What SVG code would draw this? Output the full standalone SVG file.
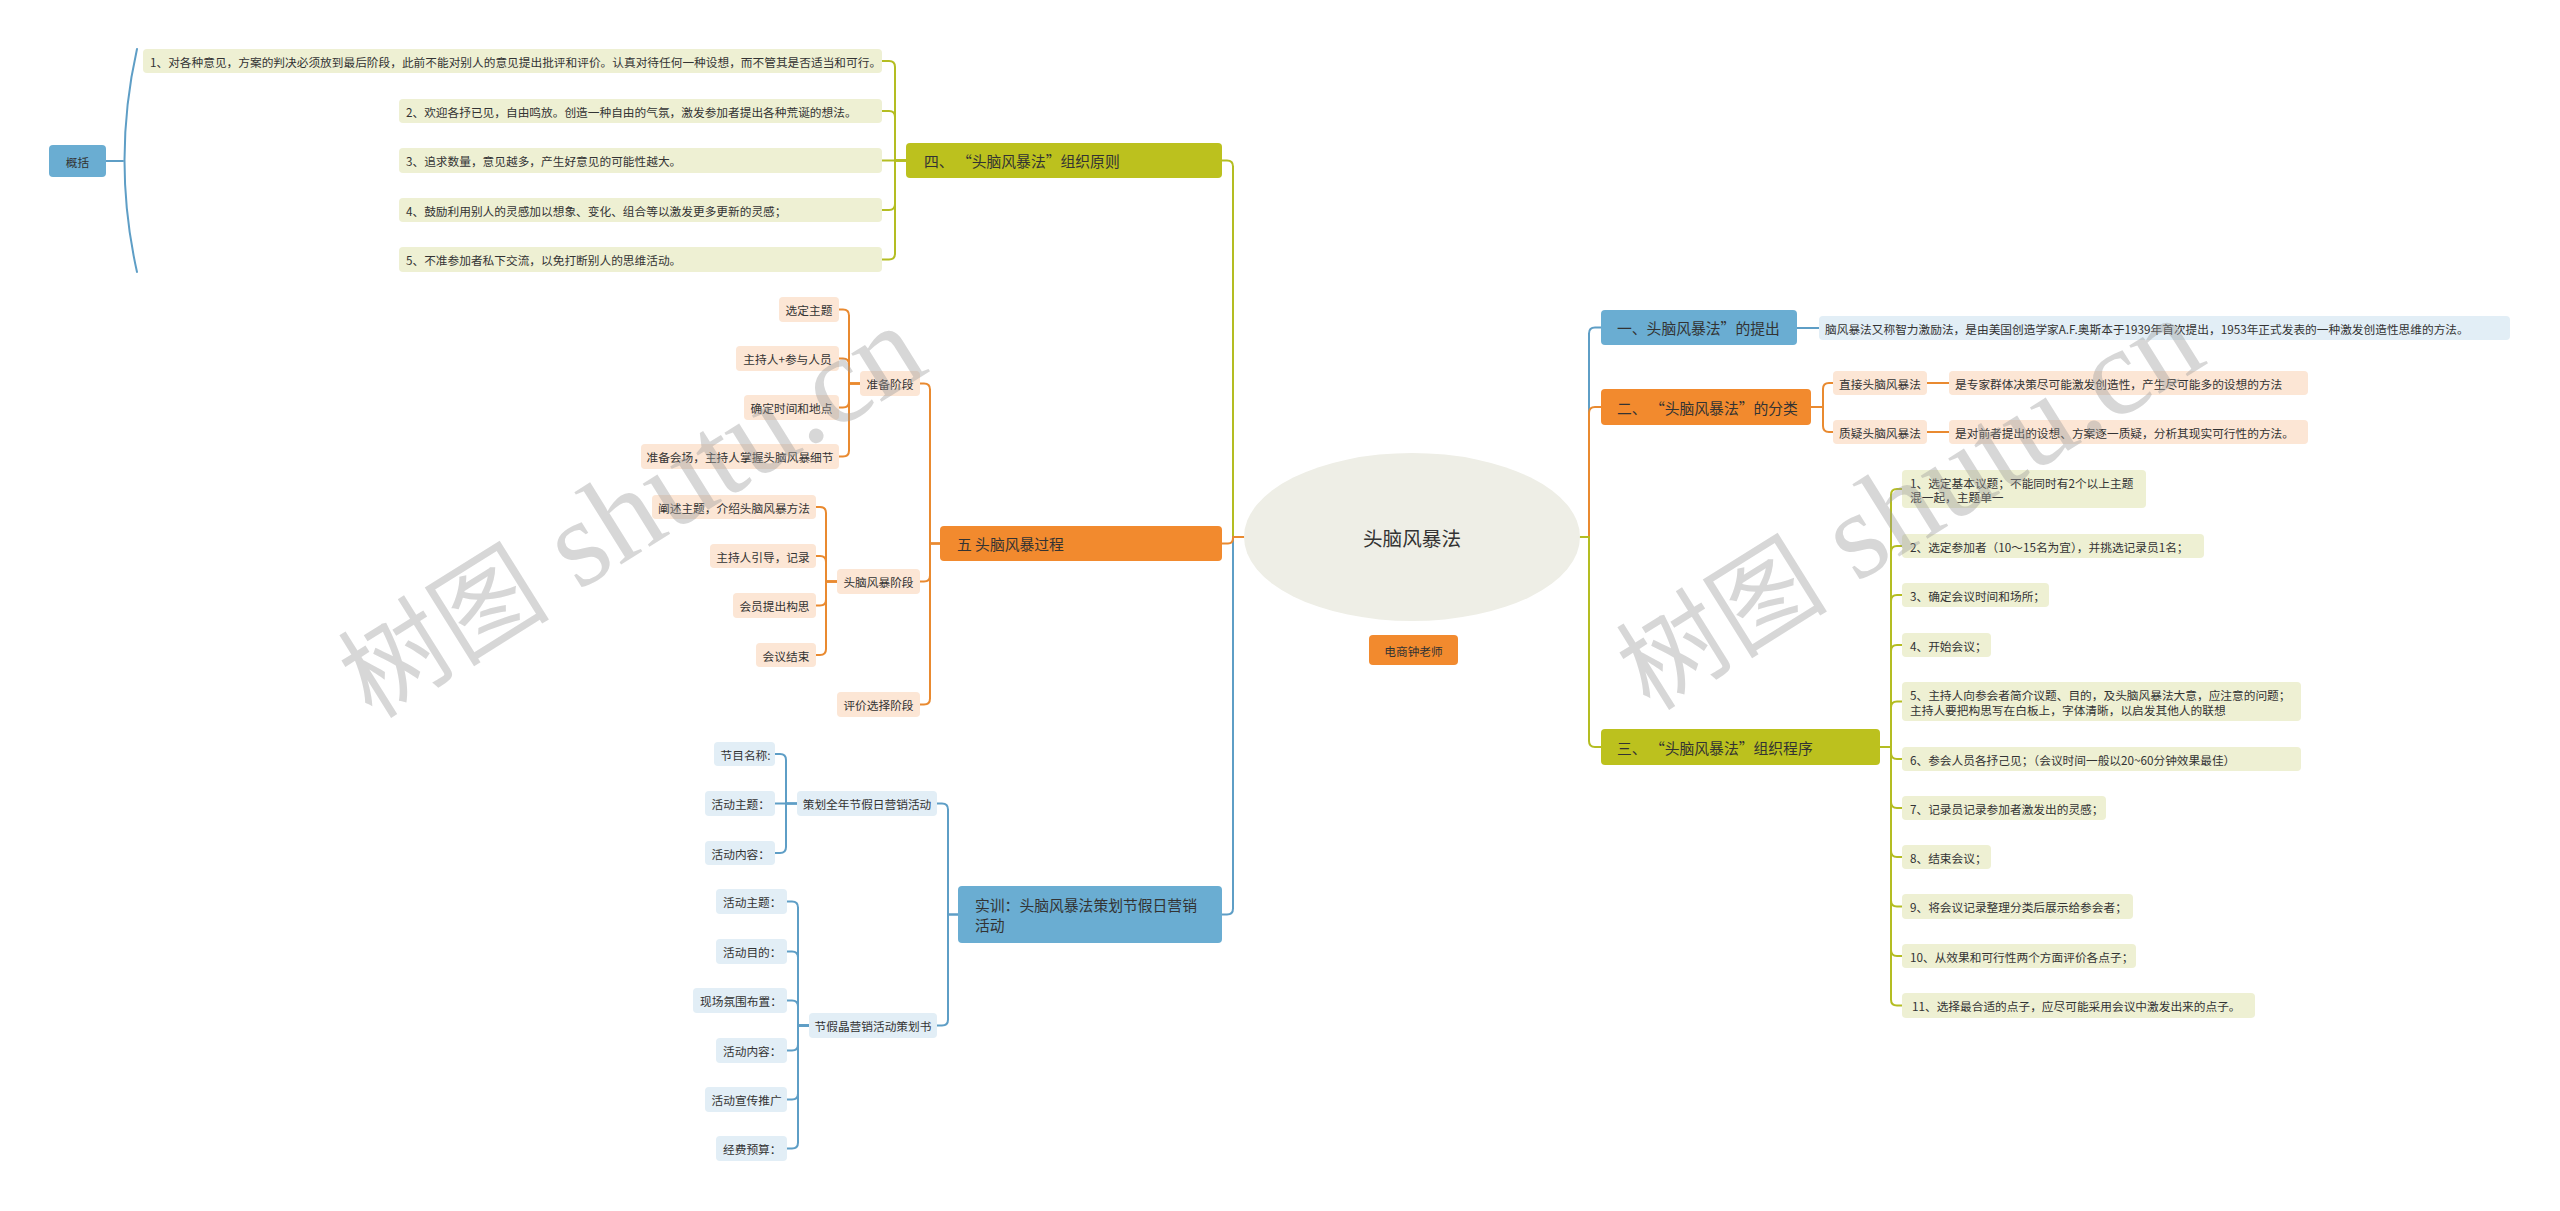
<svg xmlns="http://www.w3.org/2000/svg" width="2560" height="1211" viewBox="0 0 2560 1211">
<style>
text{font-family:"Noto Sans CJK SC","Liberation Sans",sans-serif;fill:#333;dominant-baseline:central}
.t15{font-size:14.8px}
.t12{font-size:11.7px}
.mid{text-anchor:middle}
.cb{fill:#6AADD2}
.co{fill:#F28A2E}
.cg{fill:#BCC11E}
.lb{fill:#E2EEF6}
.lo{fill:#FCE6D5}
.lg{fill:#EEF0D3}
.ln{fill:none;stroke-width:2;stroke-linecap:round;stroke-linejoin:round}
.lnb{stroke:#5E9EC6}
.lno{stroke:#E98A30}
.lng{stroke:#B4BD22}
.wm{font-family:"Liberation Serif","Noto Sans CJK SC",serif;fill:#9a9a9a;fill-opacity:0.4;dominant-baseline:auto}
</style>
<rect width="2560" height="1211" fill="#fff"/>
<g id="connectors">
<path class="ln lng" stroke-width="2.5" d="M1244,537 H1233 V166.5 Q1233,160.5 1227,160.5 H1222"/>
<path class="ln lnb" stroke-width="2.5" d="M1244,537 H1233 V908.5 Q1233,914.5 1227,914.5 H1222"/>
<path class="ln lno" stroke-width="2.5" d="M1244,537 H1233 V538 Q1233,543.5 1228,543.5 H1222"/>
<path class="ln lnb" stroke-width="2.5" d="M1580,537 H1589 V333.5 Q1589,327.5 1595,327.5 H1601"/>
<path class="ln lno" stroke-width="2.5" d="M1580,537 H1589 V413 Q1589,407 1595,407 H1601"/>
<path class="ln lng" stroke-width="2.5" d="M1580,537 H1589 V741 Q1589,747 1595,747 H1601"/>
<path class="ln lng" d="M906,160.5 H895 V67 Q895,61 889,61 H882"/>
<path class="ln lng" d="M906,160.5 H895 V117 Q895,111 889,111 H882"/>
<path class="ln lng" d="M906,160.5 H882"/>
<path class="ln lng" d="M906,160.5 H895 V204 Q895,210 889,210 H882"/>
<path class="ln lng" d="M906,160.5 H895 V253.5 Q895,259.5 889,259.5 H882"/>
<path class="ln lnb" d="M106,161 H123"/>
<path class="ln lnb" stroke-width="1.6" d="M137,49 Q112,160 137,272"/>
<path class="ln lno" d="M940,543.5 H930 V389.5 Q930,383.5 924,383.5 H920"/>
<path class="ln lno" d="M940,543.5 H930 V575.5 Q930,581.5 924,581.5 H920"/>
<path class="ln lno" d="M940,543.5 H930 V698.5 Q930,704.5 924,704.5 H920"/>
<path class="ln lno" d="M860,383.5 H849 V315.5 Q849,309.5 843,309.5 H839"/>
<path class="ln lno" d="M860,383.5 H849 V364.5 Q849,358.5 843,358.5 H839"/>
<path class="ln lno" d="M860,383.5 H849 V401.5 Q849,407.5 843,407.5 H839"/>
<path class="ln lno" d="M860,383.5 H849 V450.5 Q849,456.5 843,456.5 H839"/>
<path class="ln lno" d="M837,581.5 H826 V513 Q826,507 820,507 H816"/>
<path class="ln lno" d="M837,581.5 H826 V562 Q826,556 820,556 H816"/>
<path class="ln lno" d="M837,581.5 H826 V599.5 Q826,605.5 820,605.5 H816"/>
<path class="ln lno" d="M837,581.5 H826 V649 Q826,655 820,655 H816"/>
<path class="ln lnb" d="M958,914.5 H948 V809.5 Q948,803.5 942,803.5 H937"/>
<path class="ln lnb" d="M958,914.5 H948 V1019.5 Q948,1025.5 942,1025.5 H937"/>
<path class="ln lnb" d="M797,803.5 H786 V760 Q786,754 780,754 H775"/>
<path class="ln lnb" d="M797,803.5 H775"/>
<path class="ln lnb" d="M797,803.5 H786 V847 Q786,853 780,853 H775"/>
<path class="ln lnb" d="M809,1025.5 H798 V907.5 Q798,901.5 792,901.5 H787"/>
<path class="ln lnb" d="M809,1025.5 H798 V957.5 Q798,951.5 792,951.5 H787"/>
<path class="ln lnb" d="M809,1025.5 H798 V1006.5 Q798,1000.5 792,1000.5 H787"/>
<path class="ln lnb" d="M809,1025.5 H798 V1044.5 Q798,1050.5 792,1050.5 H787"/>
<path class="ln lnb" d="M809,1025.5 H798 V1093.5 Q798,1099.5 792,1099.5 H787"/>
<path class="ln lnb" d="M809,1025.5 H798 V1142.5 Q798,1148.5 792,1148.5 H787"/>
<path class="ln lnb" d="M1797,328 H1819"/>
<path class="ln lno" d="M1811,407 H1823 V389 Q1823,383 1829,383 H1833"/>
<path class="ln lno" d="M1811,407 H1823 V426 Q1823,432 1829,432 H1833"/>
<path class="ln lno" d="M1927,383 H1949"/>
<path class="ln lno" d="M1927,432 H1949"/>
<path class="ln lng" d="M1880,747 H1891 V495 Q1891,489 1897,489 H1902"/>
<path class="ln lng" d="M1880,747 H1891 V552 Q1891,546 1897,546 H1902"/>
<path class="ln lng" d="M1880,747 H1891 V601 Q1891,595 1897,595 H1902"/>
<path class="ln lng" d="M1880,747 H1891 V651 Q1891,645 1897,645 H1902"/>
<path class="ln lng" d="M1880,747 H1891 V707.5 Q1891,701.5 1897,701.5 H1902"/>
<path class="ln lng" d="M1880,747 H1891 V753 Q1891,759 1897,759 H1902"/>
<path class="ln lng" d="M1880,747 H1891 V802 Q1891,808 1897,808 H1902"/>
<path class="ln lng" d="M1880,747 H1891 V851 Q1891,857 1897,857 H1902"/>
<path class="ln lng" d="M1880,747 H1891 V900.5 Q1891,906.5 1897,906.5 H1902"/>
<path class="ln lng" d="M1880,747 H1891 V950 Q1891,956 1897,956 H1902"/>
<path class="ln lng" d="M1880,747 H1891 V999.5 Q1891,1005.5 1897,1005.5 H1902"/>
</g>
<g id="root"><ellipse cx="1412" cy="537" rx="168" ry="84" fill="#EEEEE6"/><text class="mid" x="1412" y="537" font-size="19.6">头脑风暴法</text></g>
<g id="author"><rect class="co" x="1369" y="635" width="89" height="30" rx="4"/><text class="t12 mid" x="1413.5" y="650">电商钟老师</text></g>
<g id="b4"><rect class="cg" x="906" y="143" width="316" height="35" rx="4"/><text class="t15" x="924" y="160.5">四、 “头脑风暴法”组织原则</text></g>
<g id="b5"><rect class="co" x="940" y="526" width="282" height="35" rx="4"/><text class="t15" x="957" y="543.5">五 头脑风暴过程</text></g>
<g id="bsx"><rect class="cb" x="958" y="886" width="264" height="57" rx="4"/><text class="t15" x="975" y="904.5">实训：头脑风暴法策划节假日营销</text><text class="t15" x="975" y="924.5">活动</text></g>
<g id="b1"><rect class="cb" x="1601" y="310" width="196" height="35" rx="4"/><text class="t15" x="1617" y="327.5">一、头脑风暴法”的提出</text></g>
<g id="b2"><rect class="co" x="1601" y="389" width="210" height="36" rx="4"/><text class="t15" x="1617" y="407">二、 “头脑风暴法”的分类</text></g>
<g id="b3"><rect class="cg" x="1601" y="729" width="279" height="36" rx="4"/><text class="t15" x="1617" y="747">三、 “头脑风暴法”组织程序</text></g>
<g id="gaikuo"><rect class="cb" x="49" y="145" width="57" height="32" rx="4"/><text class="t12 mid" x="77.5" y="161">概括</text></g>
<g id="b4c1"><rect class="lg" x="143" y="49" width="739" height="24" rx="4"/><text class="t12" x="150" y="61">1、对各种意见，方案的判决必须放到最后阶段，此前不能对别人的意见提出批评和评价。认真对待任何一种设想，而不管其是否适当和可行。</text></g>
<g id="b4c2"><rect class="lg" x="399" y="99" width="483" height="24" rx="4"/><text class="t12" x="406" y="111">2、欢迎各抒已见，自由鸣放。创造一种自由的气氛，激发参加者提出各种荒诞的想法。</text></g>
<g id="b4c3"><rect class="lg" x="399" y="148" width="483" height="25" rx="4"/><text class="t12" x="406" y="160.5">3、追求数量，意见越多，产生好意见的可能性越大。</text></g>
<g id="b4c4"><rect class="lg" x="399" y="198" width="483" height="24" rx="4"/><text class="t12" x="406" y="210">4、鼓励利用别人的灵感加以想象、变化、组合等以激发更多更新的灵感；</text></g>
<g id="b4c5"><rect class="lg" x="399" y="247" width="483" height="25" rx="4"/><text class="t12" x="406" y="259.5">5、不准参加者私下交流，以免打断别人的思维活动。</text></g>
<g id="p1"><rect class="lo" x="860" y="371" width="60" height="25" rx="4"/><text class="t12 mid" x="890" y="383.5">准备阶段</text></g>
<g id="p2"><rect class="lo" x="837" y="569" width="83" height="25" rx="4"/><text class="t12 mid" x="878.5" y="581.5">头脑风暴阶段</text></g>
<g id="p3"><rect class="lo" x="837" y="692" width="83" height="25" rx="4"/><text class="t12 mid" x="878.5" y="704.5">评价选择阶段</text></g>
<g id="p1a"><rect class="lo" x="779" y="297" width="60" height="25" rx="4"/><text class="t12 mid" x="809" y="309.5">选定主题</text></g>
<g id="p1b"><rect class="lo" x="736" y="346" width="103" height="25" rx="4"/><text class="t12 mid" x="787.5" y="358.5">主持人+参与人员</text></g>
<g id="p1c"><rect class="lo" x="744" y="395" width="95" height="25" rx="4"/><text class="t12 mid" x="791.5" y="407.5">确定时间和地点</text></g>
<g id="p1d"><rect class="lo" x="641" y="444" width="198" height="25" rx="4"/><text class="t12 mid" x="740" y="456.5">准备会场，主持人掌握头脑风暴细节</text></g>
<g id="p2a"><rect class="lo" x="652" y="495" width="164" height="24" rx="4"/><text class="t12 mid" x="734" y="507">阐述主题，介绍头脑风暴方法</text></g>
<g id="p2b"><rect class="lo" x="710" y="544" width="106" height="24" rx="4"/><text class="t12 mid" x="763" y="556">主持人引导，记录</text></g>
<g id="p2c"><rect class="lo" x="733" y="593" width="83" height="25" rx="4"/><text class="t12 mid" x="774.5" y="605.5">会员提出构思</text></g>
<g id="p2d"><rect class="lo" x="756" y="643" width="60" height="24" rx="4"/><text class="t12 mid" x="786" y="655">会议结束</text></g>
<g id="s1"><rect class="lb" x="797" y="791" width="140" height="25" rx="4"/><text class="t12 mid" x="867" y="803.5">策划全年节假日营销活动</text></g>
<g id="s2"><rect class="lb" x="809" y="1013" width="128" height="25" rx="4"/><text class="t12 mid" x="873" y="1025.5">节假晶营销活动策划书</text></g>
<g id="s1a"><rect class="lb" x="714" y="742" width="61" height="24" rx="4"/><text class="t12" x="720.5" y="754">节目名称:</text></g>
<g id="s1b"><rect class="lb" x="705" y="791" width="70" height="25" rx="4"/><text class="t12" x="711.5" y="803.5">活动主题：</text></g>
<g id="s1c"><rect class="lb" x="705" y="841" width="70" height="24" rx="4"/><text class="t12" x="711.5" y="853">活动内容：</text></g>
<g id="s2a"><rect class="lb" x="716" y="889" width="71" height="25" rx="4"/><text class="t12" x="723" y="901.5">活动主题：</text></g>
<g id="s2b"><rect class="lb" x="716" y="939" width="71" height="25" rx="4"/><text class="t12" x="723" y="951.5">活动目的：</text></g>
<g id="s2c"><rect class="lb" x="693" y="988" width="94" height="25" rx="4"/><text class="t12" x="700" y="1000.5">现场氛围布置：</text></g>
<g id="s2d"><rect class="lb" x="716" y="1038" width="71" height="25" rx="4"/><text class="t12" x="723" y="1050.5">活动内容：</text></g>
<g id="s2e"><rect class="lb" x="705" y="1087" width="82" height="25" rx="4"/><text class="t12" x="711.5" y="1099.5">活动宣传推广</text></g>
<g id="s2f"><rect class="lb" x="716" y="1136" width="71" height="25" rx="4"/><text class="t12" x="723" y="1148.5">经费预算：</text></g>
<g id="b1d"><rect class="lb" x="1819" y="316" width="691" height="24" rx="4"/><text class="t12" x="1825" y="328">脑风暴法又称智力激励法，是由美国创造学家A.F.奥斯本于1939年首次提出，1953年正式发表的一种激发创造性思维的方法。</text></g>
<g id="b2a"><rect class="lo" x="1833" y="371" width="94" height="24" rx="4"/><text class="t12 mid" x="1880" y="383">直接头脑风暴法</text></g>
<g id="b2b"><rect class="lo" x="1833" y="420" width="94" height="24" rx="4"/><text class="t12 mid" x="1880" y="432">质疑头脑风暴法</text></g>
<g id="b2ad"><rect class="lo" x="1949" y="371" width="359" height="24" rx="4"/><text class="t12" x="1955" y="383">是专家群体决策尽可能激发创造性，产生尽可能多的设想的方法</text></g>
<g id="b2bd"><rect class="lo" x="1949" y="420" width="359" height="24" rx="4"/><text class="t12" x="1955" y="432">是对前者提出的设想、方案逐一质疑，分析其现实可行性的方法。</text></g>
<g id="b3c1"><rect class="lg" x="1902" y="470" width="244" height="38" rx="4"/><text class="t12" x="1910" y="482">1、选定基本议题；不能同时有2个以上主题</text><text class="t12" x="1910" y="496.5">混一起，主题单一</text></g>
<g id="b3c2"><rect class="lg" x="1902" y="534" width="302" height="24" rx="4"/><text class="t12" x="1910" y="546">2、选定参加者（10～15名为宜），并挑选记录员1名；</text></g>
<g id="b3c3"><rect class="lg" x="1902" y="583" width="147" height="24" rx="4"/><text class="t12" x="1910" y="595">3、确定会议时间和场所；</text></g>
<g id="b3c4"><rect class="lg" x="1902" y="633" width="89" height="24" rx="4"/><text class="t12" x="1910" y="645">4、开始会议；</text></g>
<g id="b3c5"><rect class="lg" x="1902" y="682" width="399" height="39" rx="4"/><text class="t12" x="1910" y="694.5">5、主持人向参会者简介议题、目的，及头脑风暴法大意，应注意的问题；</text><text class="t12" x="1910" y="709">主持人要把构思写在白板上，字体清晰，以启发其他人的联想</text></g>
<g id="b3c6"><rect class="lg" x="1902" y="747" width="399" height="24" rx="4"/><text class="t12" x="1910" y="759">6、参会人员各抒己见；（会议时间一般以20~60分钟效果最佳）</text></g>
<g id="b3c7"><rect class="lg" x="1902" y="796" width="204" height="24" rx="4"/><text class="t12" x="1910" y="808">7、记录员记录参加者激发出的灵感；</text></g>
<g id="b3c8"><rect class="lg" x="1902" y="845" width="89" height="24" rx="4"/><text class="t12" x="1910" y="857">8、结束会议；</text></g>
<g id="b3c9"><rect class="lg" x="1902" y="894" width="231" height="25" rx="4"/><text class="t12" x="1910" y="906.5">9、将会议记录整理分类后展示给参会者；</text></g>
<g id="b3c10"><rect class="lg" x="1902" y="944" width="234" height="24" rx="4"/><text class="t12" x="1910" y="956">10、从效果和可行性两个方面评价各点子；</text></g>
<g id="b3c11"><rect class="lg" x="1902" y="993" width="353" height="25" rx="4"/><text class="t12" x="1912" y="1005.5">11、选择最合适的点子，应尽可能采用会议中激发出来的点子。</text></g>
<g id="watermarks">
<text class="wm" transform="translate(372,720) rotate(-32)"><tspan font-size="106">树图</tspan><tspan font-size="124"> shutu.cn</tspan></text>
<text class="wm" transform="translate(1650,712) rotate(-32)"><tspan font-size="106">树图</tspan><tspan font-size="124"> shutu.cn</tspan></text>
</g>
</svg>
